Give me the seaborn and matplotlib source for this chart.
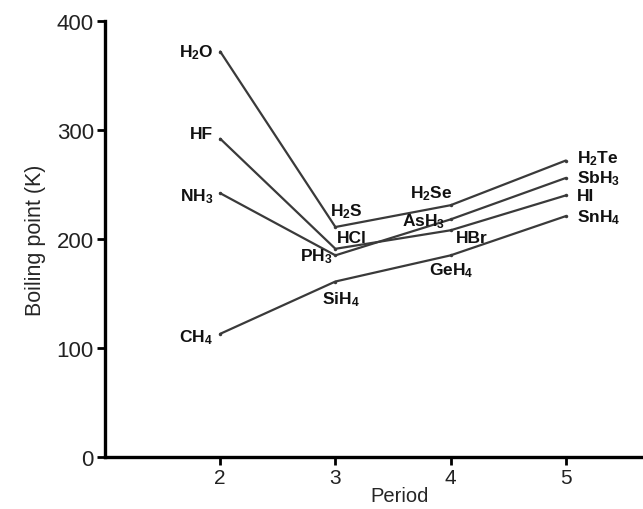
import matplotlib
matplotlib.use("Agg")
import matplotlib.pyplot as plt
import seaborn as sns
import pandas as pd

periods = [2, 3, 4, 5]
group14 = ["CH$_4$", "SiH$_4$", "GeH$_4$", "SnH$_4$"]
group15 = ["NH$_3$", "PH$_3$", "AsH$_3$", "SbH$_3$"]
group16 = ["H$_2$O", "H$_2$S", "H$_2$Se", "H$_2$Te"]
group17 = ["HF", "HCl", "HBr", "HI"]
bp14 = [113, 161, 185, 221]
bp15 = [242, 185, 218, 256]
bp16 = [372, 211, 231, 272]
bp17 = [292, 191, 208, 240]
x_ticks = [2, 3, 4, 5]
y_ticks = [0, 100, 200, 300, 400]

sns.set_theme(style="ticks")
plt.rcParams["font.family"] = ["Liberation Sans", "DejaVu Sans"]
plt.rcParams["mathtext.default"] = "regular"

rows = []
for gname, names, vals in [("14", group14, bp14), ("15", group15, bp15),
                           ("16", group16, bp16), ("17", group17, bp17)]:
    for p, n, v in zip(periods, names, vals):
        rows.append({"group": gname, "period": p, "bp": v, "name": n})
df = pd.DataFrame(rows)

fig = plt.figure(figsize=(6.43, 5.10), dpi=100)
ax = fig.add_axes([105 / 643, 1 - 458 / 510, 1 - 105 / 643, (458 - 22) / 510])

line_col = "#3a3a3a"
sns.lineplot(data=df, x="period", y="bp", hue="group",
             palette={g: line_col for g in ["14", "15", "16", "17"]},
             legend=False, ax=ax, linewidth=1.6, marker="o", markersize=2.5,
             markeredgewidth=0, estimator=None)

# label offsets in pixels (dx, dy, ha)
offs = {
    "H$_2$O": (-7, 0, "right"), "HF": (-7, 5, "right"), "NH$_3$": (-7, -2, "right"),
    "CH$_4$": (-7, -3, "right"),
    "H$_2$S": (-5, 16, "left"), "HCl": (1, 11, "left"), "PH$_3$": (-3, 0, "right"),
    "SiH$_4$": (-13, -17, "left"),
    "H$_2$Se": (-19, 13, "center"), "AsH$_3$": (-5, -1, "right"), "HBr": (5, -7, "left"),
    "GeH$_4$": (-22, -14, "left"),
    "H$_2$Te": (11, 3, "left"), "SbH$_3$": (11, 0, "left"), "HI": (11, 0, "left"),
    "SnH$_4$": (11, -1, "left"),
}
for _, r in df.iterrows():
    dx, dy, ha = offs[r["name"]]
    ax.annotate(r["name"], (r["period"], r["bp"]), xytext=(dx * 0.72, dy * 0.72),
                textcoords="offset points", ha=ha, va="center",
                fontsize=12.5, fontweight="bold", color="#111111")

ax.set_xlim(1.0, 5.67)
ax.set_ylim(0, 400)
ax.set_xticks(x_ticks)
ax.set_yticks(y_ticks)
ax.set_xlabel("Period", fontsize=14.5)
ax.xaxis.set_label_coords((400 - 105) / 538, -0.066)
ax.set_ylabel("Boiling point (K)", fontsize=15.5, labelpad=8)
ax.tick_params(axis="both", labelsize=16, width=2, length=6, color="black",
               labelcolor="#222222")
ax.tick_params(axis="x", pad=2, labelsize=15)
ax.tick_params(axis="y", pad=2)
for s in ["left", "bottom"]:
    ax.spines[s].set_linewidth(2.4)
    ax.spines[s].set_color("black")
sns.despine(ax=ax)

fig.savefig("out.png", dpi=100)
